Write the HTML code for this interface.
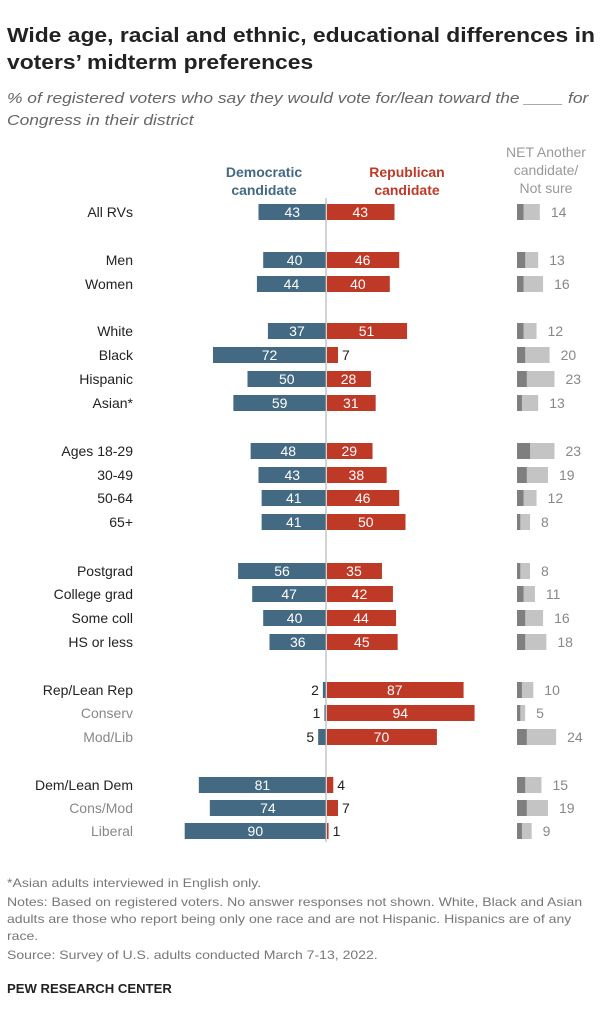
<!DOCTYPE html>
<html><head><meta charset="utf-8"><style>
body{margin:0;background:#fff;font-family:"Liberation Sans",sans-serif;}
#wrap{position:relative;width:607px;height:1024px;overflow:hidden}
.t{position:absolute;white-space:nowrap;transform-origin:0 0}
</style></head><body><div id="wrap">
<div class="t" style="left:7px;top:22px;font-size:20.5px;font-weight:bold;line-height:27px;color:#222;transform:scaleX(1.115)">Wide age, racial and ethnic, educational differences in<br>voters’ midterm preferences</div>
<div class="t" style="left:7px;top:88px;font-size:15px;font-style:italic;line-height:22px;color:#666;transform:scaleX(1.16)">% of registered voters who say they would vote for/lean toward the ____ for<br>Congress in their district</div>
<div class="t" style="left:212px;top:163px;width:104px;text-align:center;font-size:14px;font-weight:bold;line-height:18px;color:#436983">Democratic<br>candidate</div>
<div class="t" style="left:355px;top:163px;width:104px;text-align:center;font-size:14px;font-weight:bold;line-height:18px;color:#bf3927">Republican<br>candidate</div>
<div class="t" style="left:490px;top:143px;width:112px;text-align:center;font-size:14px;line-height:18px;color:#999">NET Another<br>candidate/<br>Not sure</div>
<svg id="chart" width="607" height="1024" style="position:absolute;left:0;top:0"></svg>
<div class="t" style="left:7px;top:876px;font-size:12px;color:#777;transform:scaleX(1.17)">*Asian adults interviewed in English only.</div>
<div class="t" style="left:7px;top:894px;font-size:12px;line-height:17px;color:#777;transform:scaleX(1.17)">Notes: Based on registered voters. No answer responses not shown. White, Black and Asian<br>adults are those who report being only one race and are not Hispanic. Hispanics are of any<br>race.</div>
<div class="t" style="left:7px;top:948px;font-size:12px;color:#777;transform:scaleX(1.17)">Source: Survey of U.S. adults conducted March 7-13, 2022.</div>
<div class="t" style="left:7px;top:982px;font-size:12.5px;font-weight:bold;color:#222;transform:scaleX(1.05)">PEW RESEARCH CENTER</div>
</div>
<script>
const categories=["All RVs","Men","Women","White","Black","Hispanic","Asian*","Ages 18-29","30-49","50-64","65+","Postgrad","College grad","Some coll","HS or less","Rep/Lean Rep","Conserv","Mod/Lib","Dem/Lean Dem","Cons/Mod","Liberal"];
const demValues=[43,40,44,37,72,50,59,48,43,41,41,56,47,40,36,2,1,5,81,74,90];
const repValues=[43,46,40,51,7,28,31,29,38,46,50,35,42,44,45,87,94,70,4,7,1];
const netValues=[14,13,16,12,20,23,13,23,19,12,8,8,11,16,18,10,5,24,15,19,9];
const anotherValues=[4,5,4,4,5,6,3,8,6,4,2,2,4,5,5,3,2,6,5,6,3];
const subRows=[16,17,19,20];
const rowY=[212,260,284,331,355,379,403,451,475,498,522,571,594,618,642,690,713,737,785,808,831];
const NS="http://www.w3.org/2000/svg",svg=document.getElementById('chart');
const cx=326,k=1.57,nx=517,nk=1.63,bh=16;
function xD(v){return cx-v*k}function xR(v){return cx+1+v*k}
function el(t,a){const e=document.createElementNS(NS,t);for(const q in a)e.setAttribute(q,a[q]);svg.appendChild(e);return e}
categories.forEach((c,i)=>{
 const y=rowY[i],sub=subRows.includes(i);
 let e=el('text',{x:133,y:y+5,'text-anchor':'end','font-size':14,fill:sub?'#888':'#222','font-family':'Liberation Sans'});e.textContent=c;
 
 
 e=el('rect',{x:xD(demValues[i]),y:y-bh/2,width:demValues[i]*k,height:bh,fill:'#436983'});
 
 
 e=el('rect',{x:cx+1,y:y-bh/2,width:repValues[i]*k,height:bh,fill:'#bf3927'});
 
 
 const dIn=demValues[i]>=10,rIn=repValues[i]>=10;
 e=el('text',{x:dIn?(xD(demValues[i])+cx)/2:xD(demValues[i])-4,y:y+5,'text-anchor':dIn?'middle':'end','font-size':14,fill:dIn?'#fff':'#222','font-family':'Liberation Sans'});e.textContent=demValues[i];
 
 
 e=el('text',{x:rIn?(xR(repValues[i])+cx)/2:xR(repValues[i])+4,y:y+5,'text-anchor':rIn?'middle':'start','font-size':14,fill:rIn?'#fff':'#222','font-family':'Liberation Sans'});e.textContent=repValues[i];
 
 
 e=el('rect',{x:nx,y:y-bh/2,width:netValues[i]*nk,height:bh,fill:'#c4c4c4'});
 
 
 e=el('rect',{x:nx,y:y-bh/2,width:anotherValues[i]*nk,height:bh,fill:'#7f7f7f'});
 
 
 e=el('text',{x:nx+netValues[i]*nk+11,y:y+5,'font-size':14,fill:'#888','font-family':'Liberation Sans'});e.textContent=netValues[i];
 
 
});
const ln=el('line',{x1:cx,x2:cx,y1:198,y2:842,stroke:'#aaa','stroke-width':1});


</script></body></html>
